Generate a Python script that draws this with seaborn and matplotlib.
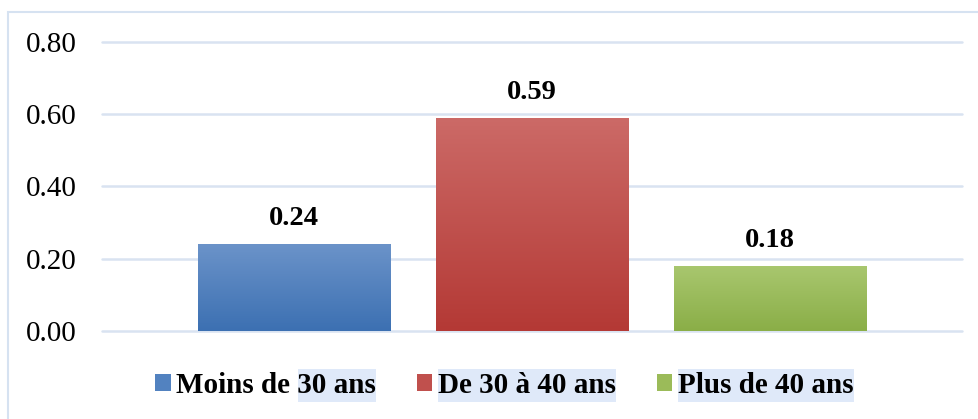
import numpy as np
import matplotlib
matplotlib.use("Agg")
import matplotlib.pyplot as plt
from matplotlib.patches import Rectangle
from matplotlib.colors import LinearSegmentedColormap
import seaborn as sns

categories = ["Moins de 30 ans", "De 30 à 40 ans", "Plus de 40 ans"]
values = [0.24, 0.59, 0.18]
value_labels = ["0.24", "0.59", "0.18"]
yticks = [0.0, 0.2, 0.4, 0.6, 0.8]
ytick_labels = ["0.00", "0.20", "0.40", "0.60", "0.80"]
colors_mid = ["#5282c0", "#c0504d", "#9bbb59"]
colors_top = ["#6b93c9", "#cc6a67", "#a9c76f"]
colors_bot = ["#3c70b2", "#b43935", "#8aae47"]
highlight = [(True, "30 ans"), (True, None), (True, None)]

sns.set_theme(style="white")
plt.rcParams["font.family"] = ["Liberation Serif", "DejaVu Serif"]
plt.rcParams["text.color"] = "black"
plt.rcParams["ytick.color"] = "black"

W, H = 979, 419
fig = plt.figure(figsize=(W / 100, H / 100), dpi=100)
ax = fig.add_axes([102 / W, (H - 331) / H, (962 - 102) / W, (331 - 42) / H])

sns.barplot(x=categories, y=values, hue=categories, palette=colors_mid,
            width=0.808, legend=False, ax=ax, saturation=1)
ax.set_xlim(-0.808, 2.808)
ax.set_ylim(0, 0.8)

# gradient fills
for patch, ct, cb in zip(ax.patches, colors_top, colors_bot):
    x0, y0 = patch.get_x(), patch.get_y()
    w, h = patch.get_width(), patch.get_height()
    cmap = LinearSegmentedColormap.from_list("g", [cb, ct])
    grad = np.linspace(0, 1, 256).reshape(-1, 1)
    im = ax.imshow(grad, cmap=cmap, aspect="auto", origin="lower",
                   extent=[x0, x0 + w, y0, y0 + h], zorder=3)
    im.set_clip_path(patch)
    patch.set_edgecolor("none")

ax.set_xlim(-0.808, 2.808)
ax.set_ylim(0, 0.8)

# data labels
for i, (v, lab) in enumerate(zip(values, value_labels)):
    ax.annotate(lab, (i, v), xytext=(0, 9.5), textcoords="offset points",
                ha="center", va="bottom", fontsize=20.5, fontweight="bold",
                color="black", zorder=5)

ax.set_yticks(yticks)
ax.set_yticklabels(ytick_labels, fontsize=21, color="black")
ax.tick_params(axis="y", length=0, pad=18, labelcolor="black")
ax.set_xticks([])
ax.set_xlabel("")
ax.set_ylabel("")
for s in ax.spines.values():
    s.set_visible(False)
ax.yaxis.grid(True, color="#d9e3f1", linewidth=1.8)
ax.set_axisbelow(True)
for gl in ax.get_ygridlines():
    gl.set_clip_on(False)

# chart border
fig.patches.append(Rectangle((8.5 / W, -0.1), 1.2, (H - 12.5) / H + 0.1,
                             transform=fig.transFigure, fill=False,
                             edgecolor="#d6e2f1", linewidth=1.5, zorder=0))

# legend
handles = [Rectangle((0, 0), 1, 1, facecolor=c, edgecolor="none") for c in colors_mid]
leg = fig.legend(handles, categories, loc="center",
                 bbox_to_anchor=(504.5 / W, 1 - 385 / H), ncol=3, frameon=False,
                 prop={"family": "Liberation Serif", "weight": "bold", "size": 21},
                 handlelength=0.52, handleheight=0.52, handletextpad=0.2,
                 columnspacing=1.4, borderaxespad=0, borderpad=0,
                 labelcolor="black")

fig.canvas.draw()
renderer = fig.canvas.get_renderer()
inv = fig.transFigure.inverted()
for txt, (hl, part) in zip(leg.get_texts(), highlight):
    if not hl:
        continue
    bb = txt.get_window_extent(renderer)
    x1 = bb.x1
    if part is None:
        x0 = bb.x0
    else:
        tmp = fig.text(0, 0, part, fontproperties=txt.get_fontproperties())
        pw = tmp.get_window_extent(renderer).width
        tmp.remove()
        x0 = x1 - pw
    yc = (bb.y0 + bb.y1) / 2
    hh = 33
    (fx0, fy0) = inv.transform((x0, yc - hh / 2))
    (fx1, fy1) = inv.transform((x1, yc + hh / 2))
    fig.patches.append(Rectangle((fx0, fy0), fx1 - fx0, fy1 - fy0,
                                 transform=fig.transFigure, facecolor="#dfe9f9",
                                 edgecolor="none", zorder=1))

fig.savefig("out.png", dpi=100)
